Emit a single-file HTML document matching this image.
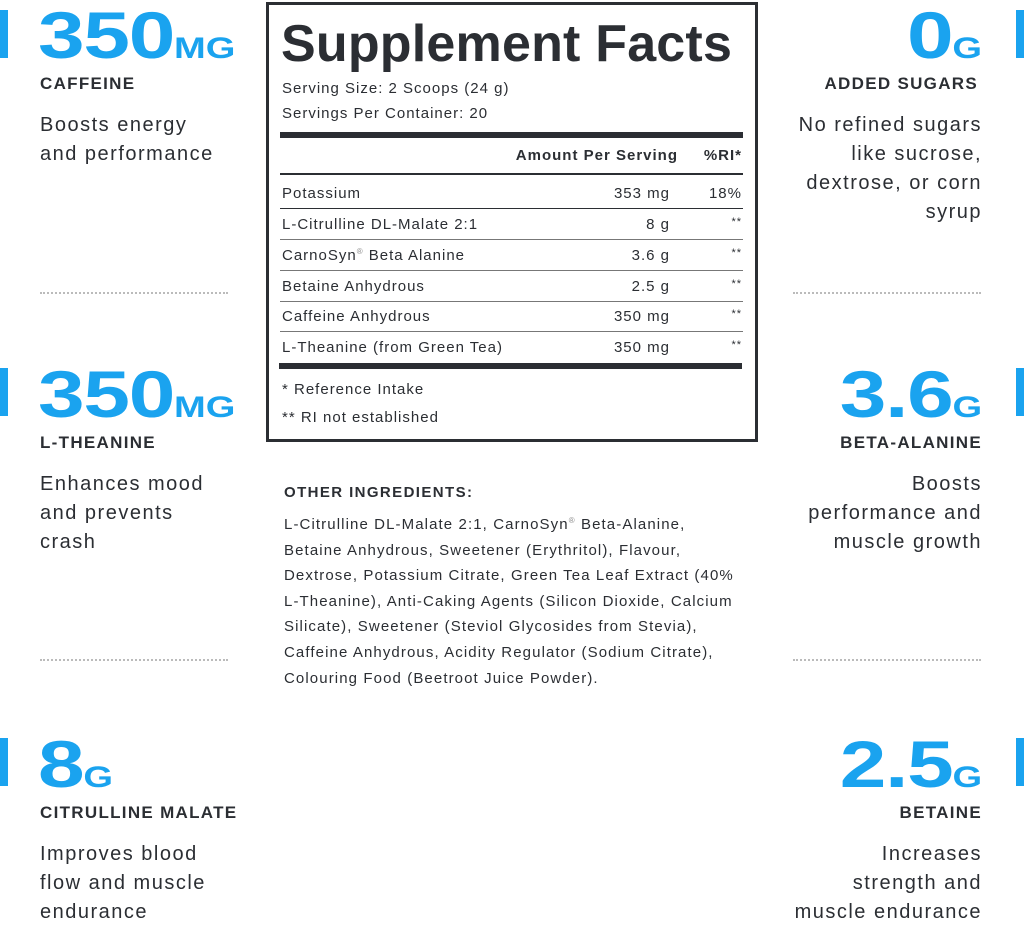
<!DOCTYPE html>
<html><head><style>
body{margin:0;width:1024px;height:920px;background:#fff;position:relative;overflow:hidden;font-family:"Liberation Sans",sans-serif;color:#2b2e33}
.a{position:absolute;white-space:nowrap}
.bar{position:absolute;width:8px;height:48px;background:#1aa3ef}
.big{position:absolute;font-weight:bold;font-size:66px;color:#1aa3ef;letter-spacing:-1px;line-height:66px;white-space:nowrap;transform:scaleX(1.27);transform-origin:left top}
.big.r{transform-origin:right top}
.big span{font-size:30px;letter-spacing:0}
.lab{position:absolute;font-weight:bold;font-size:17px;line-height:20px;letter-spacing:1.3px;white-space:nowrap}
.desc{position:absolute;font-size:20px;line-height:29px;letter-spacing:1.5px;white-space:nowrap}
.r{text-align:right}
.dot{position:absolute;width:188px;border-top:2px dotted #bbb}
.t{font-size:15px;line-height:18px;letter-spacing:1px}
.row{position:absolute;left:282px;width:460px;font-size:15px;height:18px;letter-spacing:1px}
.row span{white-space:nowrap}
.row .n{position:absolute;left:0}.row .v{position:absolute;right:72px}.row .p{position:absolute;right:0}
.sep{position:absolute;left:280px;width:463px;height:1px;background:#777}
</style></head><body>
<div class="bar" style="left:0;top:10px"></div>
<div class="big" style="left:38px;top:2px">350<span>MG</span></div>
<div class="lab" style="left:40px;top:74px">CAFFEINE</div>
<div class="desc" style="left:40px;top:111px">Boosts energy<br>and performance</div>
<div class="dot" style="left:40px;top:292px"></div>

<div class="bar" style="left:0;top:368px"></div>
<div class="big" style="left:38px;top:361px">350<span>MG</span></div>
<div class="lab" style="left:40px;top:433px">L-THEANINE</div>
<div class="desc" style="left:40px;top:470px">Enhances mood<br>and prevents<br>crash</div>
<div class="dot" style="left:40px;top:659px"></div>

<div class="bar" style="left:0;top:738px"></div>
<div class="big" style="left:38px;top:731px">8<span>G</span></div>
<div class="lab" style="left:40px;top:803px">CITRULLINE MALATE</div>
<div class="desc" style="left:40px;top:840px">Improves blood<br>flow and muscle<br>endurance</div>

<div class="bar" style="right:0;top:10px"></div>
<div class="big r" style="right:42px;top:2px">0<span>G</span></div>
<div class="lab r" style="right:46px;top:74px">ADDED SUGARS</div>
<div class="desc r" style="right:42px;top:111px">No refined sugars<br>like sucrose,<br>dextrose, or corn<br>syrup</div>
<div class="dot" style="left:793px;top:292px"></div>

<div class="bar" style="right:0;top:368px"></div>
<div class="big r" style="right:42px;top:361px">3.6<span>G</span></div>
<div class="lab r" style="right:42px;top:433px">BETA-ALANINE</div>
<div class="desc r" style="right:42px;top:470px">Boosts<br>performance and<br>muscle growth</div>
<div class="dot" style="left:793px;top:659px"></div>

<div class="bar" style="right:0;top:738px"></div>
<div class="big r" style="right:42px;top:731px">2.5<span>G</span></div>
<div class="lab r" style="right:42px;top:803px">BETAINE</div>
<div class="desc r" style="right:42px;top:840px">Increases<br>strength and<br>muscle endurance</div>

<div style="position:absolute;left:266px;top:2px;width:486px;height:434px;border:3px solid #2b2e33"></div>
<div class="a" style="left:281px;top:14px;font-size:52px;font-weight:bold;letter-spacing:0.2px;line-height:60px">Supplement Facts</div>
<div class="a t" style="left:282px;top:80px">Serving Size: 2 Scoops (24 g)</div>
<div class="a t" style="left:282px;top:105px">Servings Per Container: 20</div>
<div style="position:absolute;left:280px;top:132px;width:463px;height:6px;background:#2b2e33"></div>
<div class="row" style="top:147px;font-weight:bold"><span class="v" style="right:64px">Amount Per Serving</span><span class="p">%RI*</span></div>
<div style="position:absolute;left:280px;top:173px;width:463px;height:2px;background:#2b2e33"></div>
<div class="row" style="top:185px"><span class="n">Potassium</span><span class="v">353 mg</span><span class="p">18%</span></div>
<div class="sep" style="top:208px;background:#2b2e33"></div>
<div class="row" style="top:216px"><span class="n">L-Citrulline DL-Malate 2:1</span><span class="v">8 g</span><span class="p" style="font-size:11px">**</span></div>
<div class="sep" style="top:239px"></div>
<div class="row" style="top:247px"><span class="n">CarnoSyn<sup style="font-size:8px;color:#888">®</sup> Beta Alanine</span><span class="v">3.6 g</span><span class="p" style="font-size:11px">**</span></div>
<div class="sep" style="top:270px"></div>
<div class="row" style="top:278px"><span class="n">Betaine Anhydrous</span><span class="v">2.5 g</span><span class="p" style="font-size:11px">**</span></div>
<div class="sep" style="top:301px"></div>
<div class="row" style="top:308px"><span class="n">Caffeine Anhydrous</span><span class="v">350 mg</span><span class="p" style="font-size:11px">**</span></div>
<div class="sep" style="top:331px"></div>
<div class="row" style="top:339px"><span class="n">L-Theanine (from Green Tea)</span><span class="v">350 mg</span><span class="p" style="font-size:11px">**</span></div>
<div style="position:absolute;left:279px;top:363px;width:463px;height:6px;background:#2b2e33"></div>
<div class="a t" style="left:282px;top:381px">* Reference Intake</div>
<div class="a t" style="left:282px;top:409px">** RI not established</div>

<div class="a t" style="left:284px;top:484px;font-weight:bold;letter-spacing:1.4px">OTHER INGREDIENTS:</div>
<div class="a" style="left:284px;top:508px;font-size:15px;line-height:25.6px;letter-spacing:1.1px">L-Citrulline DL-Malate 2:1, CarnoSyn<sup style="font-size:8px;color:#888">®</sup> Beta-Alanine,<br>Betaine Anhydrous, Sweetener (Erythritol), Flavour,<br>Dextrose, Potassium Citrate, Green Tea Leaf Extract (40%<br>L-Theanine), Anti-Caking Agents (Silicon Dioxide, Calcium<br>Silicate), Sweetener (Steviol Glycosides from Stevia),<br>Caffeine Anhydrous, Acidity Regulator (Sodium Citrate),<br>Colouring Food (Beetroot Juice Powder).</div>
</body></html>
